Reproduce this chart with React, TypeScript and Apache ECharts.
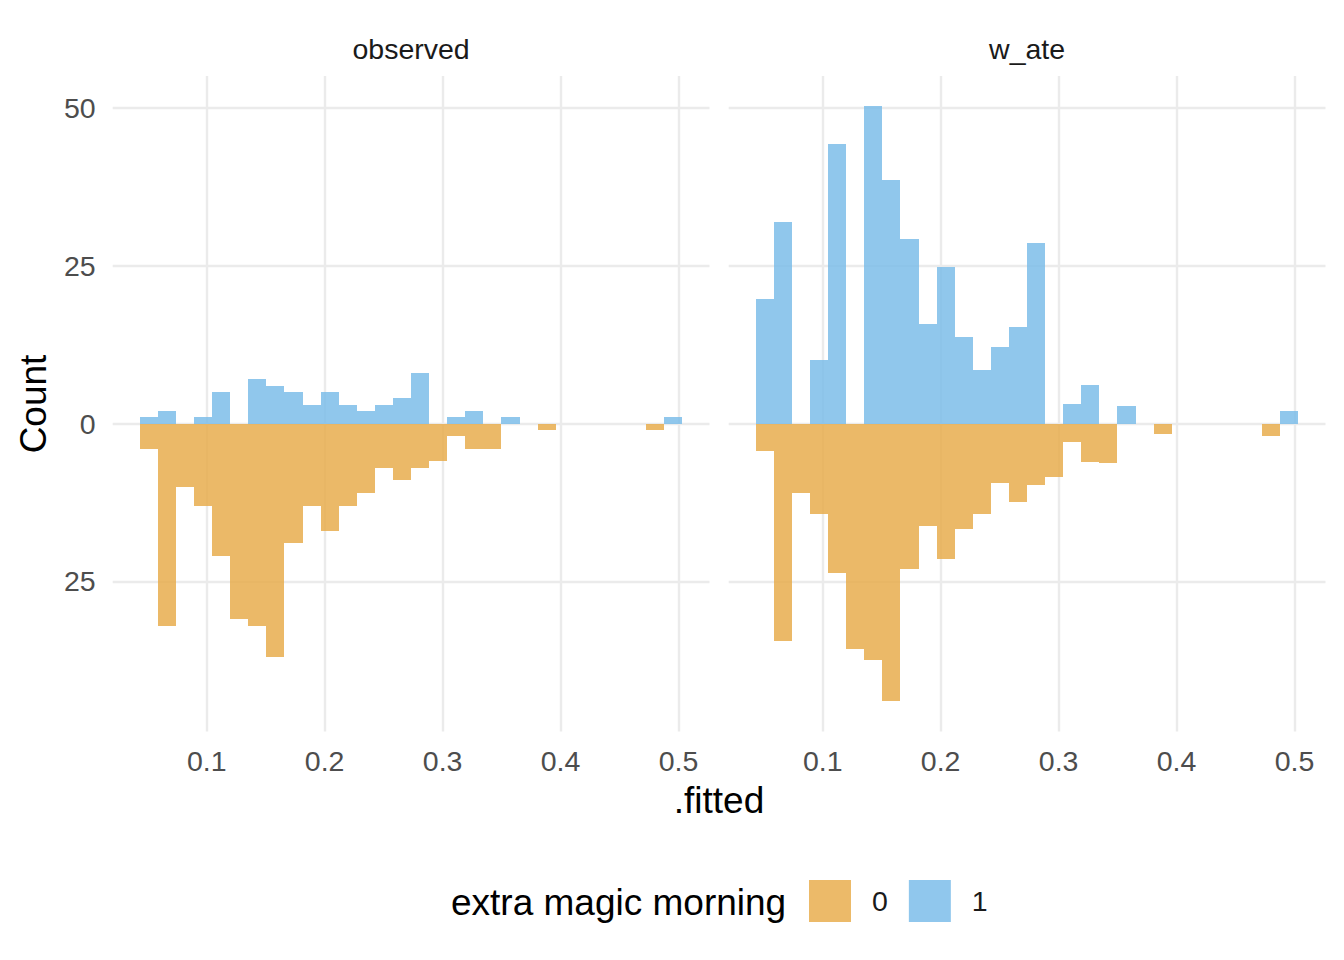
import React, { useEffect, useRef } from "react";
import * as echarts from "echarts";

// Histogram bins (ggplot bins = 30)
const binStart = 0.0433;
const binWidth = 0.01533;
const xMin = 0.0203;
const xMax = 0.5263;
const yMin = -48.8;
const yMax = 55.1;

const xTicks = [0.1, 0.2, 0.3, 0.4, 0.5];
const yTicks = [-25, 0, 25, 50];

const facets = ["observed", "w_ate"];
const groups = ["0", "1"];
const legendTitle = "extra magic morning";

// counts per bin, group "1" (plotted upward)
const observed1 = [1, 2, 0, 1, 5, 0, 7, 6, 5, 3, 5, 3, 2, 3, 4, 8, 0, 1, 2, 0, 1, 0, 0, 0, 0, 0, 0, 0, 0, 1];
// counts per bin, group "0" (plotted downward)
const observed0 = [4, 32, 10, 13, 21, 31, 32, 37, 19, 13, 17, 13, 11, 7, 9, 7, 6, 2, 4, 4, 0, 0, 1, 0, 0, 0, 0, 0, 1, 0];
// weighted counts, group "1"
const wate1 = [19.7, 31.9, 0, 10.1, 44.4, 0, 50.3, 38.6, 29.2, 15.8, 24.9, 13.7, 8.5, 12.1, 15.3, 28.6, 0, 3.1, 6.1, 0, 2.8, 0, 0, 0, 0, 0, 0, 0, 0, 2.0];
// weighted counts, group "0"
const wate0 = [4.3, 34.4, 11.0, 14.4, 23.6, 35.8, 37.4, 44.0, 23.0, 16.2, 21.4, 16.7, 14.4, 9.4, 12.4, 9.7, 8.5, 2.9, 6.05, 6.2, 0, 0, 1.6, 0, 0, 0, 0, 0, 1.95, 0];

const ORANGE = "rgba(232,173,78,0.85)";
const BLUE = "rgba(124,189,233,0.85)";
const ORANGE_SOLID = "#ECBA69";
const BLUE_SOLID = "#90C7ED";
const FONT = "'Liberation Sans', Arial, Helvetica, sans-serif";

function binData(values: number[], sign: number) {
  return values.map((v, i) => [binStart + i * binWidth, binStart + (i + 1) * binWidth, sign * v]);
}

export default function App() {
  const ref = useRef<HTMLDivElement>(null);

  useEffect(() => {
    document.body.style.margin = "0";
    if (!ref.current) return;
    const chart = echarts.init(ref.current, null, { renderer: "svg" });

    const gridLeft = [112.7, 728.7];
    const gridWidth = 596.8;
    const gridTop = 76;
    const gridHeight = 655.5;

    const renderItem = (fill: string) => (params: any, api: any) => {
      const x0 = api.value(0);
      const x1 = api.value(1);
      const y = api.value(2);
      if (!y) return null;
      const p0 = api.coord([x0, 0]);
      const p1 = api.coord([x1, y]);
      const left = Math.round(p0[0]);
      const right = Math.round(p1[0]);
      const top = Math.round(Math.min(p0[1], p1[1]));
      const bottom = Math.round(Math.max(p0[1], p1[1]));
      return {
        type: "rect",
        shape: { x: left, y: top, width: right - left, height: bottom - top },
        style: { fill },
      };
    };

    const splitLine = { show: true, lineStyle: { color: "#EBEBEB", width: 2.4 } };

    const xAxes = [0, 1].map((g) => ({
      type: "value",
      gridIndex: g,
      min: xMin,
      max: xMax,
      axisLine: { show: false },
      axisTick: { show: false, customValues: xTicks },
      axisLabel: {
        customValues: xTicks,
        color: "#4D4D4D",
        fontSize: 28.5,
        fontFamily: FONT,
        margin: 15,
        formatter: (v: number) => v.toFixed(1),
      },
      splitLine,
    }));

    const yAxes = [0, 1].map((g) => ({
      type: "value",
      gridIndex: g,
      min: yMin,
      max: yMax,
      axisLine: { show: false },
      axisTick: { show: false, customValues: yTicks },
      axisLabel: {
        show: g === 0,
        customValues: yTicks,
        color: "#4D4D4D",
        fontSize: 28.5,
        fontFamily: FONT,
        margin: 17,
        formatter: (v: number) => String(Math.abs(v)),
      },
      splitLine,
    }));

    const series = [
      { name: groups[0], idx: 0, data: binData(observed0, -1), fill: ORANGE, solid: ORANGE_SOLID },
      { name: groups[1], idx: 0, data: binData(observed1, 1), fill: BLUE, solid: BLUE_SOLID },
      { name: groups[0], idx: 1, data: binData(wate0, -1), fill: ORANGE, solid: ORANGE_SOLID },
      { name: groups[1], idx: 1, data: binData(wate1, 1), fill: BLUE, solid: BLUE_SOLID },
    ].map((s) => ({
      type: "custom",
      name: s.name,
      xAxisIndex: s.idx,
      yAxisIndex: s.idx,
      itemStyle: { color: s.solid },
      encode: { x: [0, 1], y: 2 },
      renderItem: renderItem(s.fill),
      data: s.data,
    }));

    chart.setOption({
      animation: false,
      backgroundColor: "#ffffff",
      grid: gridLeft.map((l) => ({ left: l, top: gridTop, width: gridWidth, height: gridHeight })),
      xAxis: xAxes,
      yAxis: yAxes,
      series,
      legend: {
        data: groups,
        left: 809,
        top: 880,
        padding: 0,
        itemWidth: 42,
        itemHeight: 42,
        itemGap: 21,
        icon: "rect",
        selectedMode: false,
        textStyle: {
          fontSize: 28.5,
          fontFamily: FONT,
          color: "#1A1A1A",
          padding: [0, 0, 0, 16],
        },
      },
      graphic: [
        {
          type: "text",
          x: gridLeft[0] + gridWidth / 2,
          y: 49,
          style: { text: facets[0], fill: "#1A1A1A", font: `28.5px ${FONT}`, textAlign: "center", textVerticalAlign: "middle" },
        },
        {
          type: "text",
          x: gridLeft[1] + gridWidth / 2,
          y: 49,
          style: { text: facets[1], fill: "#1A1A1A", font: `28.5px ${FONT}`, textAlign: "center", textVerticalAlign: "middle" },
        },
        {
          type: "text",
          x: 719,
          y: 800,
          style: { text: ".fitted", fill: "#000000", font: `37px ${FONT}`, textAlign: "center", textVerticalAlign: "middle" },
        },
        {
          type: "text",
          x: 33,
          y: 404,
          rotation: Math.PI / 2,
          style: { text: "Count", fill: "#000000", font: `37px ${FONT}`, textAlign: "center", textVerticalAlign: "middle" },
        },
        {
          type: "text",
          x: 451,
          y: 902,
          style: { text: legendTitle, fill: "#000000", font: `37px ${FONT}`, textAlign: "left", textVerticalAlign: "middle" },
        },
      ],
    });

    return () => chart.dispose();
  }, []);

  return <div ref={ref} style={{ width: 1344, height: 960 }} />;
}
